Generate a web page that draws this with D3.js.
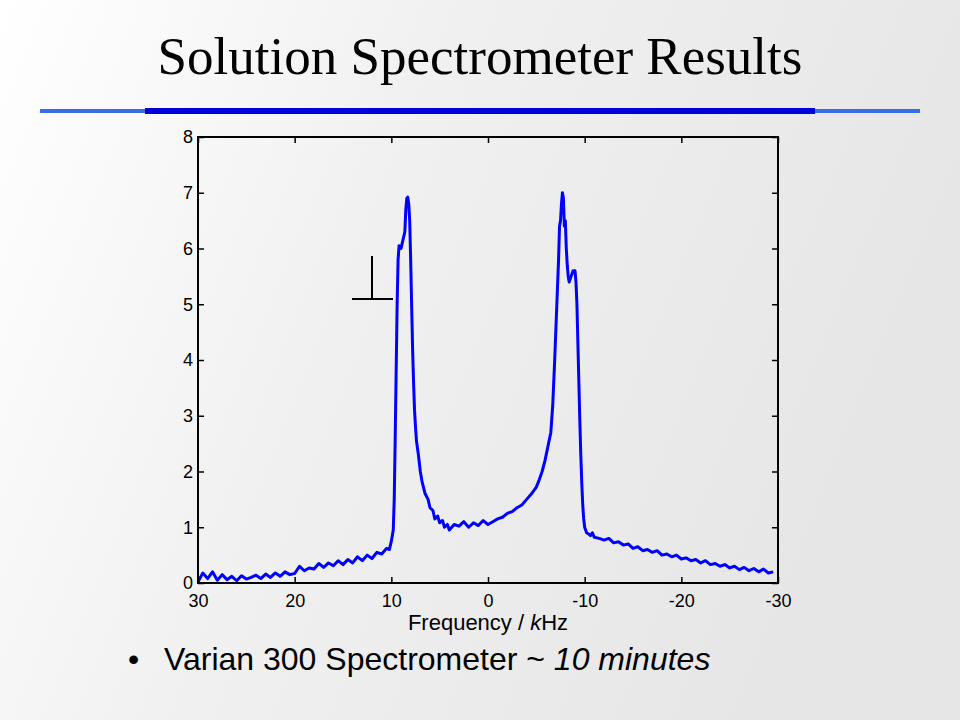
<!DOCTYPE html>
<html><head><meta charset="utf-8">
<script src="https://cdn.jsdelivr.net/npm/d3@7"></script>
<style>body{margin:0}svg{display:block}</style>
</head><body><svg width="960" height="720"></svg>
<script>
const title = "Solution Spectrometer Results";
const xTicks = [30, 20, 10, 0, -10, -20, -30];
const yTicks = [0, 1, 2, 3, 4, 5, 6, 7, 8];
const freq = [30,29.5,29,28.5,28,27.5,27,26.5,26,25.5,25,24.5,24,23.5,23,22.5,22,21.5,21,20.5,20,19.5,19,18.5,18,17.5,17,16.5,16,15.5,15,14.5,14,13.5,13,12.5,12,11.5,11,10.5,10.2,10,9.8,9.7,9.6,9.5,9.4,9.3,9.2,9.0,8.8,8.6,8.5,8.4,8.3,8.2,8.1,8.0,7.9,7.8,7.7,7.6,7.5,7.4,7.2,7.0,6.8,6.5,6.2,6,5.7,5.5,5.2,5,4.7,4.5,4.2,4,3.5,3,2.5,2,1.5,1,0.5,0,-0.5,-1,-1.5,-2,-2.5,-3,-3.5,-4,-4.5,-5,-5.3,-5.6,-5.9,-6.2,-6.5,-6.7,-6.9,-7.1,-7.3,-7.4,-7.5,-7.6,-7.7,-7.8,-7.9,-8.0,-8.1,-8.2,-8.3,-8.4,-8.6,-8.8,-9.0,-9.1,-9.2,-9.3,-9.4,-9.5,-9.6,-9.7,-9.8,-9.9,-10,-10.1,-10.2,-10.4,-10.6,-10.8,-11,-11.5,-12,-12.5,-13,-13.5,-14,-14.5,-15,-15.5,-16,-16.5,-17,-17.5,-18,-18.5,-19,-19.5,-20,-20.5,-21,-21.5,-22,-22.5,-23,-23.5,-24,-24.5,-25,-25.5,-26,-26.5,-27,-27.5,-28,-28.5,-29,-29.5];
const signal = [0.02,0.18,0.08,0.2,0.05,0.15,0.06,0.12,0.04,0.13,0.07,0.1,0.14,0.08,0.16,0.1,0.18,0.12,0.2,0.15,0.17,0.3,0.22,0.27,0.25,0.35,0.28,0.36,0.31,0.4,0.33,0.42,0.36,0.47,0.4,0.5,0.44,0.55,0.52,0.62,0.6,0.75,0.95,1.5,2.6,3.8,5.0,5.8,6.05,6.0,6.15,6.3,6.7,6.9,6.92,6.8,6.5,5.8,5.0,4.2,3.6,3.1,2.8,2.55,2.3,2.0,1.8,1.6,1.5,1.35,1.3,1.15,1.2,1.08,1.12,1.0,1.05,0.95,1.05,1.02,1.1,1.0,1.08,1.03,1.12,1.05,1.1,1.15,1.18,1.25,1.28,1.35,1.4,1.5,1.6,1.72,1.85,2.0,2.2,2.45,2.7,3.2,4.0,4.9,5.8,6.4,6.5,6.8,7.0,6.9,6.4,6.5,6.0,5.7,5.5,5.4,5.5,5.6,5.6,5.4,5.0,4.3,3.6,2.9,2.3,1.8,1.4,1.15,1.0,0.95,0.9,0.88,0.85,0.9,0.82,0.8,0.77,0.8,0.72,0.74,0.68,0.7,0.62,0.65,0.58,0.6,0.55,0.58,0.5,0.52,0.47,0.5,0.43,0.45,0.4,0.42,0.36,0.4,0.33,0.35,0.3,0.33,0.27,0.3,0.24,0.28,0.22,0.26,0.2,0.25,0.18,0.2,0.12,0.16];

const svg = d3.select("svg");
const defs = svg.append("defs");
const grad = defs.append("linearGradient").attr("id", "bg")
    .attr("x1", "0").attr("y1", "0").attr("x2", "1").attr("y2", "0.3");
grad.append("stop").attr("offset", "0").attr("stop-color", "#ffffff");
grad.append("stop").attr("offset", "0.45").attr("stop-color", "#f0f0f0");
grad.append("stop").attr("offset", "1").attr("stop-color", "#e6e6e6");
svg.append("rect").attr("width", 960).attr("height", 720).attr("fill", "url(#bg)");

svg.append("text").attr("x", 480).attr("y", 74).attr("text-anchor", "middle")
    .style("font-family", "Liberation Serif, serif").style("font-size", "53px")
    .text(title);
svg.append("rect").attr("x", 40).attr("y", 109).attr("width", 880).attr("height", 4).attr("fill", "#3d6be8");
svg.append("rect").attr("x", 145).attr("y", 108).attr("width", 670).attr("height", 6).attr("fill", "#0000d8");

const x = d3.scaleLinear().domain([30, -30]).range([198, 778]);
const y = d3.scaleLinear().domain([0, 8]).range([583, 137]);
const font = "Liberation Sans, Arial, sans-serif";

svg.append("path").datum(freq.map((f, i) => [f, signal[i]]))
    .attr("fill", "none").attr("stroke", "#0000ff").attr("stroke-width", 3)
    .attr("stroke-linejoin", "round")
    .attr("d", d3.line().x(d => x(d[0])).y(d => y(d[1])));

function styleAxis(sel) {
    sel.attr("font-size", 18).attr("font-family", font);
    sel.select(".domain").remove();
    sel.selectAll("text").style("font-size", "18px").attr("fill", "#000");
    sel.selectAll("line").attr("stroke", "#000").attr("stroke-width", 1.5);
}
const fmt = d => String(d);
svg.append("g").attr("transform", "translate(0,583)")
    .call(d3.axisBottom(x).tickValues(xTicks).tickSize(-6).tickPadding(11).tickFormat(fmt))
    .call(styleAxis);
svg.append("g").attr("transform", "translate(198,0)")
    .call(d3.axisLeft(y).tickValues(yTicks).tickSize(-6).tickPadding(5))
    .call(styleAxis);
svg.append("g").attr("transform", "translate(0,137)")
    .call(d3.axisTop(x).tickValues(xTicks).tickSize(-6).tickFormat(""))
    .call(styleAxis);
svg.append("g").attr("transform", "translate(778,0)")
    .call(d3.axisRight(y).tickValues(yTicks).tickSize(-6).tickFormat(""))
    .call(styleAxis);
svg.append("rect").attr("x", 198).attr("y", 137).attr("width", 580).attr("height", 446)
    .attr("fill", "none").attr("stroke", "#000").attr("stroke-width", 2);

const xl = svg.append("text").attr("x", 488).attr("y", 630).attr("text-anchor", "middle")
    .style("font-family", font).style("font-size", "22px");
xl.append("tspan").text("Frequency / ");
xl.append("tspan").style("font-style", "italic").text("k");
xl.append("tspan").text("Hz");

// perpendicular symbol
svg.append("line").attr("x1", 372).attr("x2", 372).attr("y1", 256).attr("y2", 299).attr("stroke", "#000").attr("stroke-width", 2);
svg.append("line").attr("x1", 352).attr("x2", 393).attr("y1", 299).attr("y2", 299).attr("stroke", "#000").attr("stroke-width", 2);

const bl = svg.append("text").attr("x", 128).attr("y", 670)
    .style("font-family", font).style("font-size", "32px");
bl.append("tspan").text("•");
bl.append("tspan").attr("x", 164).text("Varian 300 Spectrometer ~ ");
bl.append("tspan").style("font-style", "italic").text("10 minutes");
</script></body></html>
